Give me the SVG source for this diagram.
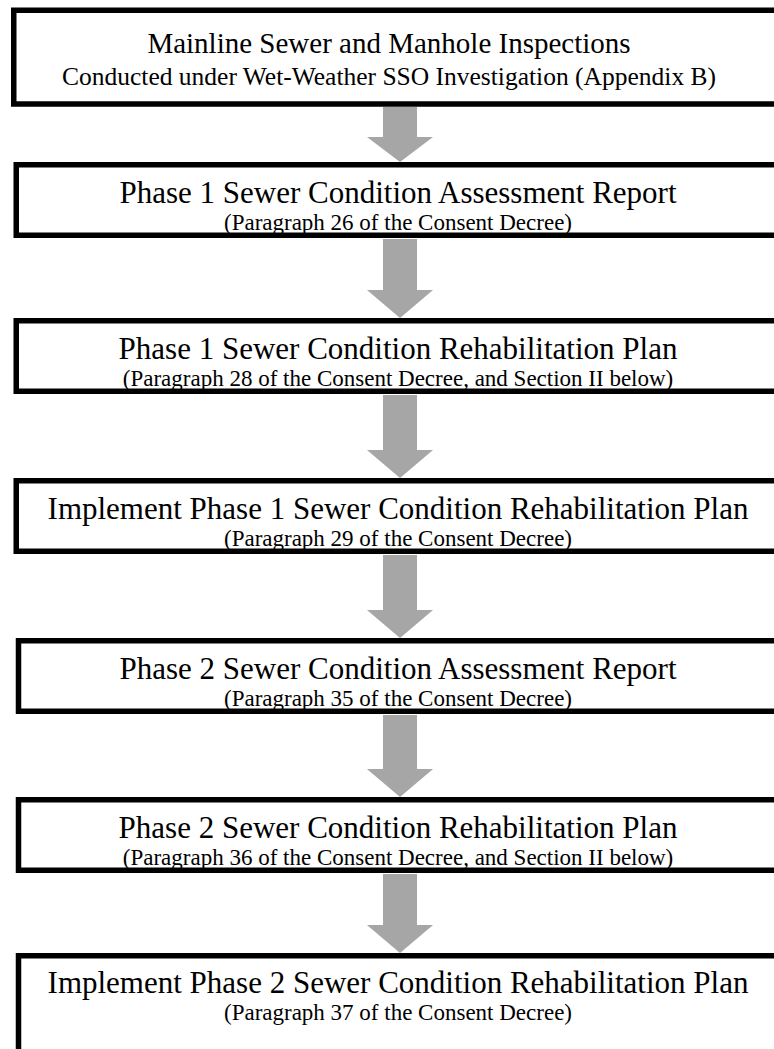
<svg xmlns="http://www.w3.org/2000/svg" width="774" height="1049" viewBox="0 0 774 1049">
<style>
.box{fill:#fff;stroke:#000;stroke-width:5.5}
.t{font-family:"Liberation Serif","Times New Roman",serif;fill:#000;text-anchor:middle}
.h{font-size:31px}
.s{font-size:23px}
.a{fill:#a6a6a6}
</style>
<rect width="774" height="1049" fill="#fff"/>
<g id="connectors">
<polygon class="a" points="383,107 417,107 417,137 433,137 400,162 367,137 383,137"/>
<polygon class="a" points="383,239 417,239 417,290 433,290 400,318 367,290 383,290"/>
<polygon class="a" points="383,395 417,395 417,450 433,450 400,478 367,450 383,450"/>
<polygon class="a" points="383,555 417,555 417,610 433,610 400,638 367,610 383,610"/>
<polygon class="a" points="383,715 417,715 417,769 433,769 400,797 367,769 383,769"/>
<polygon class="a" points="383,874 417,874 417,925 433,925 400,953 367,925 383,925"/>
</g>
<g id="n1">
<rect class="box" x="13.75" y="10.25" width="800" height="93.75"/>
<text class="t" style="font-size:29px" x="389" y="53">Mainline Sewer and Manhole Inspections</text>
<text class="t" style="font-size:25.5px" x="389" y="85">Conducted under Wet-Weather SSO Investigation (Appendix B)</text>
</g>
<g id="n2">
<rect class="box" x="16.25" y="164.75" width="800" height="70.5"/>
<text class="t h" x="398" y="203">Phase 1 Sewer Condition Assessment Report</text>
<text class="t s" x="398" y="230">(Paragraph 26 of the Consent Decree)</text>
</g>
<g id="n3">
<rect class="box" x="16.25" y="320.75" width="800" height="70.5"/>
<text class="t h" x="398" y="359">Phase 1 Sewer Condition Rehabilitation Plan</text>
<text class="t s" x="398" y="386">(Paragraph 28 of the Consent Decree, and Section II below)</text>
</g>
<g id="n4">
<rect class="box" x="16.25" y="480.75" width="800" height="70.5"/>
<text class="t h" x="398" y="519">Implement Phase 1 Sewer Condition Rehabilitation Plan</text>
<text class="t s" x="398" y="546">(Paragraph 29 of the Consent Decree)</text>
</g>
<g id="n5">
<rect class="box" x="18.5" y="640.75" width="800" height="70.5"/>
<text class="t h" x="398" y="679">Phase 2 Sewer Condition Assessment Report</text>
<text class="t s" x="398" y="706">(Paragraph 35 of the Consent Decree)</text>
</g>
<g id="n6">
<rect class="box" x="18.5" y="799.75" width="800" height="70.5"/>
<text class="t h" x="398" y="838">Phase 2 Sewer Condition Rehabilitation Plan</text>
<text class="t s" x="398" y="865">(Paragraph 36 of the Consent Decree, and Section II below)</text>
</g>
<g id="n7">
<rect class="box" x="18.5" y="955.75" width="800" height="120"/>
<text class="t h" x="398" y="993">Implement Phase 2 Sewer Condition Rehabilitation Plan</text>
<text class="t s" x="398" y="1020">(Paragraph 37 of the Consent Decree)</text>
</g>
</svg>
